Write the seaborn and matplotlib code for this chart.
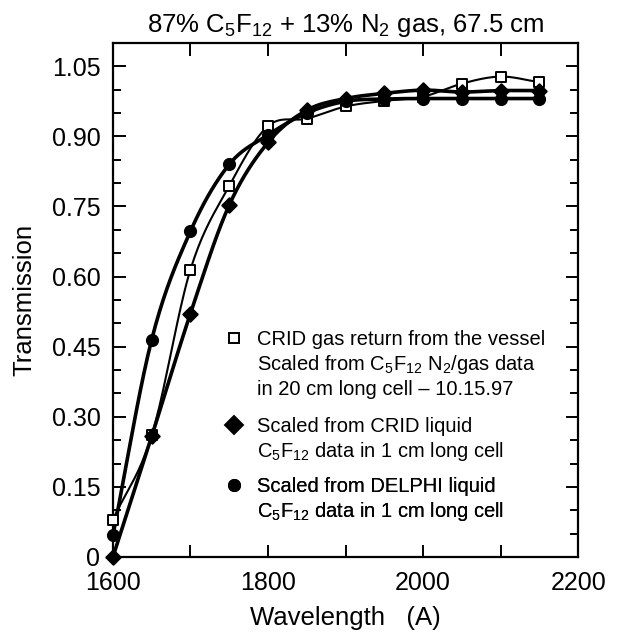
import numpy as np
import pandas as pd
import matplotlib
matplotlib.use("Agg")
import matplotlib.pyplot as plt
import seaborn as sns
from matplotlib.lines import Line2D

# ---- data ----
wavelength = [1600, 1650, 1700, 1750, 1800, 1850, 1900, 1950, 2000, 2050, 2100, 2150]
crid_gas = [0.080, 0.260, 0.615, 0.794, 0.922, 0.938, 0.964, 0.976, 0.985, 1.013, 1.028, 1.016]
crid_liquid = [0.0, 0.258, 0.521, 0.753, 0.887, 0.956, 0.981, 0.992, 0.999, 0.995, 0.998, 0.998]
delphi_liquid = [0.046, 0.465, 0.697, 0.840, 0.903, 0.950, 0.975, 0.980, 0.981, 0.981, 0.981, 0.981]

title = "87% C$_5$F$_{12}$ + 13% N$_2$ gas, 67.5 cm"
xlabel = "Wavelength   (A)"
ylabel = "Transmission"
xticks = [1600, 1800, 2000, 2200]
yticks = [0, 0.15, 0.30, 0.45, 0.60, 0.75, 0.90, 1.05]
ytick_labels = ["0", "0.15", "0.30", "0.45", "0.60", "0.75", "0.90", "1.05"]

legend_groups = [
    ["CRID gas return from the vessel",
     "Scaled from C$_5$F$_{12}$ N$_2$/gas data",
     "in 20 cm long cell \u2013 10.15.97"],
    ["Scaled from CRID liquid",
     "C$_5$F$_{12}$ data in 1 cm long cell"],
    ["Scaled from DELPHI liquid",
     "C$_5$F$_{12}$ data in 1 cm long cell"],
]


def smooth(x, y, n=20):
    """Catmull-Rom spline through the points (for drawing the curve only)."""
    x = np.asarray(x, float)
    y = np.asarray(y, float)
    xs, ys = [], []
    for i in range(len(x) - 1):
        y0 = y[i - 1] if i > 0 else 2 * y[i] - y[i + 1]
        y3 = y[i + 2] if i + 2 < len(y) else 2 * y[i + 1] - y[i]
        t = np.linspace(0, 1, n, endpoint=False)
        m1 = (y[i + 1] - y0) / 2
        m2 = (y3 - y[i]) / 2
        h00 = 2 * t**3 - 3 * t**2 + 1
        h10 = t**3 - 2 * t**2 + t
        h01 = -2 * t**3 + 3 * t**2
        h11 = t**3 - t**2
        xs.append(x[i] + t * (x[i + 1] - x[i]))
        ys.append(h00 * y[i] + h10 * m1 + h01 * y[i + 1] + h11 * m2)
    xs.append([x[-1]])
    ys.append([y[-1]])
    return np.concatenate(xs), np.concatenate(ys)


sns.set_theme(style="ticks")
plt.rcParams["font.family"] = ["Liberation Sans", "DejaVu Sans"]
plt.rcParams["mathtext.fontset"] = "custom"
plt.rcParams["mathtext.rm"] = "Liberation Sans"
plt.rcParams["mathtext.it"] = "Liberation Sans"
plt.rcParams["mathtext.default"] = "regular"
for k in ["text.color", "axes.labelcolor", "xtick.color", "ytick.color", "axes.edgecolor"]:
    plt.rcParams[k] = "black"

fig = plt.figure(figsize=(6.17, 6.37), dpi=100)
ax = fig.add_axes([0.183, 0.1256, 0.754, 0.807])

series = [
    (crid_gas, "s", "white", 60, 1.5),
    (crid_liquid, "D", "black", 55, 2.6),
    (delphi_liquid, "o", "black", 65, 2.6),
]

for vals, marker, fc, s, lw in series:
    sx, sy = smooth(wavelength, vals)
    sns.lineplot(x=sx, y=sy, ax=ax, color="black", lw=lw, sort=False,
                 estimator=None, zorder=2)

for vals, marker, fc, s, lw in series:
    df = pd.DataFrame({"w": wavelength, "t": vals})
    sns.scatterplot(data=df, x="w", y="t", ax=ax, marker=marker, s=s,
                    facecolor=fc, edgecolor="black", linewidth=1.4,
                    zorder=3, clip_on=False)

ax.set_xlim(1600, 2200)
ax.set_ylim(0, 1.10)
ax.set_xticks(xticks)
ax.set_xticks(np.arange(1600, 2201, 100), minor=True)
ax.set_yticks(yticks)
ax.set_yticklabels(ytick_labels)
ax.set_yticks(np.arange(0, 1.101, 0.05), minor=True)
ax.tick_params(axis="both", which="both", direction="in", top=True, right=True,
               labelsize=18, colors="black", width=1.4)
ax.tick_params(axis="both", which="major", length=9)
ax.tick_params(axis="y", which="major", pad=9)
ax.tick_params(axis="x", which="major", pad=10)
ax.tick_params(axis="both", which="minor", length=6)
ax.tick_params(axis="x", which="minor", length=9)
for sp in ax.spines.values():
    sp.set_linewidth(1.6)
    sp.set_color("black")

ax.set_xlabel(xlabel, fontsize=18.5, labelpad=8)
ax.set_ylabel(ylabel, fontsize=18.5, labelpad=11)
ax.set_title(title, fontsize=18.5, pad=8)

# ---- legend: one block per series ----
markers_leg = [("s", "white", 7), ("D", "black", 9), ("o", "black", 8)]
anchors = [0.4416, 0.272, 0.156]
for grp, (mk, fc, ms), ya in zip(legend_groups, markers_leg, anchors):
    handles = [Line2D([], [], ls="none", marker=mk, mfc=fc, mec="black",
                      mew=1.4, ms=ms)]
    handles += [Line2D([], [], ls="none") for _ in grp[1:]]
    leg = ax.legend(handles, grp, loc="upper left", bbox_to_anchor=(0.243, ya),
                    frameon=False, fontsize=14.5, handlelength=0.8,
                    handletextpad=0.75, labelspacing=0.2, borderpad=0,
                    borderaxespad=0)
    ax.add_artist(leg)

fig.savefig("out.png", dpi=100, facecolor="white")
